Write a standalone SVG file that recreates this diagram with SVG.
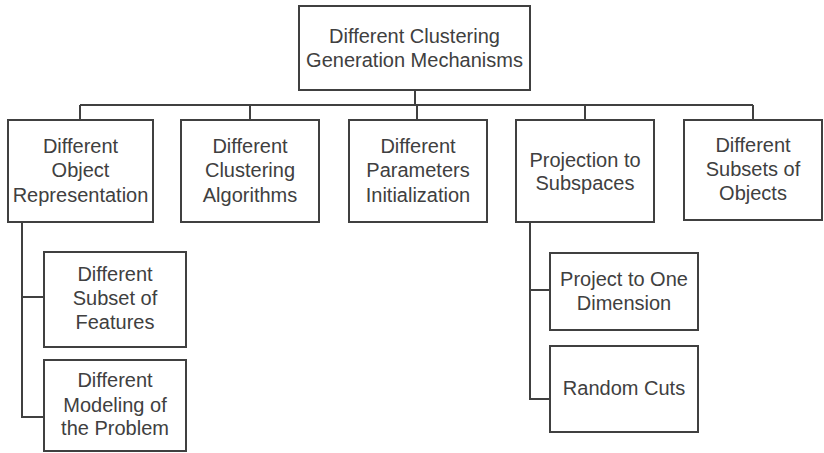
<svg xmlns="http://www.w3.org/2000/svg" width="824" height="453" viewBox="0 0 824 453">
<style>
.box{fill:#fff;stroke:#404040;stroke-width:2}
.t{font-family:"Liberation Sans",Arial,sans-serif;font-size:20px;fill:#404040;text-anchor:middle}
.c{fill:none;stroke:#404040;stroke-width:2}
</style>
<rect width="824" height="453" fill="#fff"/>
<g id="connectors">
<path class="c" d="M415 90V105M80 105H753M80 105V120M250 105V120M417 105V120M585 105V120M753 105V120"/>
<path class="c" d="M22 222V417H44M22 297H44"/>
<path class="c" d="M530 222V399H550M530 290H550"/>
</g>
<g id="root"><rect class="box" x="299" y="6" width="231" height="84"/>
<text class="t" x="414.5" y="43">Different Clustering</text><text class="t" x="414.5" y="67">Generation Mechanisms</text></g>
<g id="n1"><rect class="box" x="8" y="120" width="145" height="102"/>
<text class="t" x="80.5" y="153">Different</text><text class="t" x="80.5" y="177">Object</text><text class="t" x="80.5" y="202">Representation</text></g>
<g id="n2"><rect class="box" x="181" y="120" width="138" height="102"/>
<text class="t" x="250" y="153">Different</text><text class="t" x="250" y="177">Clustering</text><text class="t" x="250" y="202">Algorithms</text></g>
<g id="n3"><rect class="box" x="349" y="120" width="138" height="102"/>
<text class="t" x="418" y="153">Different</text><text class="t" x="418" y="177">Parameters</text><text class="t" x="418" y="202">Initialization</text></g>
<g id="n4"><rect class="box" x="516" y="120" width="138" height="102"/>
<text class="t" x="585" y="167">Projection to</text><text class="t" x="585" y="190">Subspaces</text></g>
<g id="n5"><rect class="box" x="684" y="120" width="138" height="100"/>
<text class="t" x="753" y="152">Different</text><text class="t" x="753" y="176">Subsets of</text><text class="t" x="753" y="200">Objects</text></g>
<g id="n1a"><rect class="box" x="44" y="252" width="142" height="95"/>
<text class="t" x="115" y="281">Different</text><text class="t" x="115" y="305">Subset of</text><text class="t" x="115" y="329">Features</text></g>
<g id="n1b"><rect class="box" x="44" y="360" width="142" height="91"/>
<text class="t" x="115" y="387">Different</text><text class="t" x="115" y="412">Modeling of</text><text class="t" x="115" y="435">the Problem</text></g>
<g id="n4a"><rect class="box" x="550" y="253" width="148" height="77"/>
<text class="t" x="624" y="286">Project to One</text><text class="t" x="624" y="310">Dimension</text></g>
<g id="n4b"><rect class="box" x="550" y="346" width="148" height="86"/>
<text class="t" x="624" y="395">Random Cuts</text></g>
</svg>
